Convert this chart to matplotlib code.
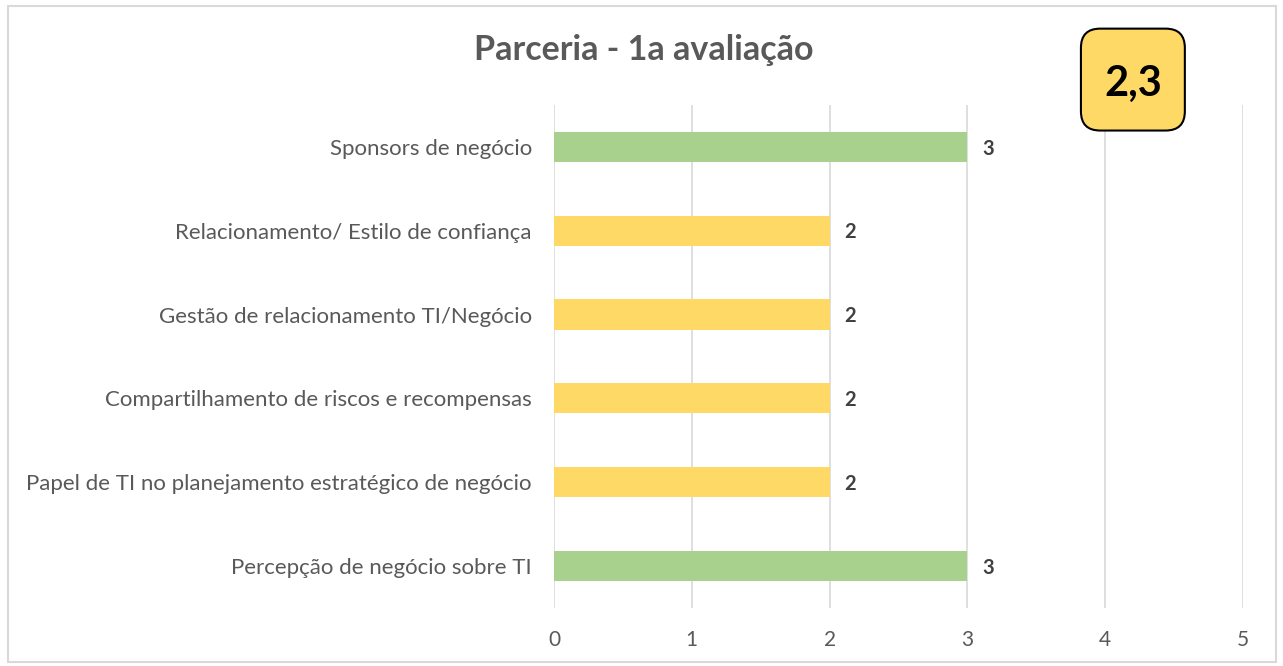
import matplotlib.pyplot as plt
from matplotlib.patches import FancyBboxPatch, Rectangle

categories = [
    'Percepção de negócio sobre TI',
    'Papel de TI no planejamento estratégico de negócio',
    'Compartilhamento de riscos e recompensas',
    'Gestão de relacionamento TI/Negócio',
    'Relacionamento/ Estilo de confiança',
    'Sponsors de negócio',
]
scores = [3, 2, 2, 2, 2, 3]
average_label = '2,3'
x_ticks = [0, 1, 2, 3, 4, 5]

green = '#A9D18E'
yellow = '#FFD966'
bar_colors = [green if s >= 3 else yellow for s in scores]

plt.rcParams['font.family'] = ['Lato', 'DejaVu Sans']

fig = plt.figure(figsize=(12.83, 6.66), dpi=100)
ax = fig.add_axes([0.4318, 0.0871, 0.537, 0.7553])

y_pos = range(len(categories))
bars = ax.barh(y_pos, scores, height=0.36, color=bar_colors, zorder=3)

for i, s in enumerate(scores):
    ax.text(s + 0.11, i - 0.02, str(s), va='center', ha='left', fontsize=14.5,
            fontweight='bold', color='#404040')

ax.set_xlim(0, 5)
ax.set_ylim(-0.5, len(categories) - 0.5)
ax.set_xticks(x_ticks)
ax.set_yticks(list(y_pos))
ax.set_yticklabels(categories)
ax.tick_params(axis='y', length=0, pad=16, labelsize=16, labelcolor='#595959')
ax.tick_params(axis='x', length=0, pad=16, labelsize=15, labelcolor='#595959')
ax.grid(axis='x', color='#D9D9D9', linewidth=1.2, zorder=0)
for sp in ax.spines.values():
    sp.set_visible(False)

fig.text(0.502, 0.925, 'Parceria - 1a avaliação', ha='center', va='center',
         fontsize=24.5, fontweight='bold', color='#595959')

# outer chart border
fig.patches.append(Rectangle((0.0062, 0.006), 0.988, 0.985, transform=fig.transFigure,
                             fill=False, edgecolor='#D9D9D9', linewidth=1.5))

# average score box
box = FancyBboxPatch((0.8425, 0.804), 0.081, 0.153, transform=fig.transFigure,
                     boxstyle='round,pad=0,rounding_size=0.015', facecolor=yellow,
                     edgecolor='black', linewidth=1.5, zorder=5,
                     mutation_aspect=1283 / 666)
fig.patches.append(box)
fig.text(0.883, 0.874, average_label, ha='center', va='center', fontsize=30,
         fontweight='bold', color='black', zorder=6)

fig.savefig('out.png', dpi=100)
